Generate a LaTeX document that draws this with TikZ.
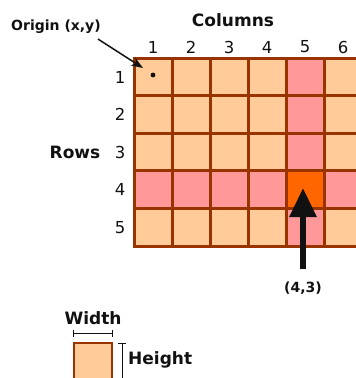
\documentclass[tikz,border=0pt]{standalone}
\usepackage{fontspec}
\setmainfont{DejaVu Sans}
\usetikzlibrary{arrows.meta,positioning}
\definecolor{rasterInk}{HTML}{111111}
\definecolor{rasterEdge}{HTML}{993300}
\definecolor{rasterPeach}{HTML}{FFCC99}
\definecolor{rasterPink}{HTML}{FF9999}
\definecolor{rasterOrange}{HTML}{FF6600}
\tikzset{
  every picture/.style={text=rasterInk},
  raster label/.style={font=\bfseries\fontsize{17}{17}\selectfont, inner sep=0pt},
  raster small label/.style={font=\bfseries\fontsize{14}{14}\selectfont, inner sep=0pt},
  raster index/.style={font=\fontsize{16.5}{16.5}\selectfont, inner sep=0pt},
  raster line/.style={draw=rasterEdge, line width=3pt, line cap=rect},
  raster key/.style={draw=rasterEdge, line width=2pt, fill=rasterPeach,
    minimum width=38pt, minimum height=50pt, inner sep=0pt, anchor=north west},
  raster arrow/.style={-{Triangle[length=29pt,width=26pt]},
    draw=rasterInk, line width=6pt},
  origin arrow/.style={-{Stealth[length=12pt,width=9pt]},
    draw=rasterInk, line width=1.5pt},
  dim bar/.style={draw=rasterInk, line width=1pt}
}

\begin{document}
\begin{tikzpicture}[x=1pt,y=-1pt]
  \useasboundingbox (0,0) rectangle (356,378);
  \clip (0,0) rectangle (356,378);
  % cells: peach everywhere, row 4 and column 5 pink, their crossing orange
  \fill[rasterPeach] (134,58) rectangle (362,246);
  \fill[rasterPink] (134,170.8) rectangle (362,208.4);
  \fill[rasterPink] (286,58) rectangle (324,246);
  \fill[rasterOrange] (286,170.8) rectangle (324,208.4);
  \foreach \c in {0,...,6}
    \draw[raster line] ({134+38*\c},58) -- ({134+38*\c},246);
  \foreach \r in {0,...,5}
    \draw[raster line] (134,{58+37.6*\r}) -- (362,{58+37.6*\r});
  % indices
  \foreach \c in {1,...,6}
    \node[raster index] (col\c) at ({115+38*\c},47) {\c};
  \foreach \r in {1,...,5}
    \node[raster index] (row\r) at (120,{39.5+37.6*\r}) {\r};
  \node[raster label] (columns) at (233,20) {Columns};
  \node[raster label] (rows) at (75,152) {Rows};
  % origin
  \fill[rasterInk] (153,75) circle (2.4pt);
  \node[raster small label] (origin) at (56,27) {Origin (x,y)};
  \coordinate (originTip) at (143,68);
  \draw[origin arrow] ([xshift=-3pt,yshift=-5pt]origin.south east) -- (originTip);
  % cell (4,3)
  \node[raster small label] (cellLabel) at (303,288) {(4,3)};
  \coordinate (cellTip) at (303,188);
  \draw[raster arrow] ([yshift=12pt]cellLabel.north) -- (cellTip);
  % legend
  \node[raster key] (cellKey) at (73,342) {};
  \draw[dim bar,{Bar[width=7pt]}-{Bar[width=7pt]}]
    ([yshift=9pt]cellKey.north west) -- ([yshift=9pt]cellKey.north east);
  \node[raster label, above=17pt of cellKey.north] (width) {Width};
  \draw[dim bar,{Bar[width=8pt]}-]
    ([xshift=9pt,yshift=-1pt]cellKey.north east) -- ([xshift=9pt]cellKey.south east);
  \node[raster label, anchor=west] (height) at (128,360) {Height};
\end{tikzpicture}
\end{document}
